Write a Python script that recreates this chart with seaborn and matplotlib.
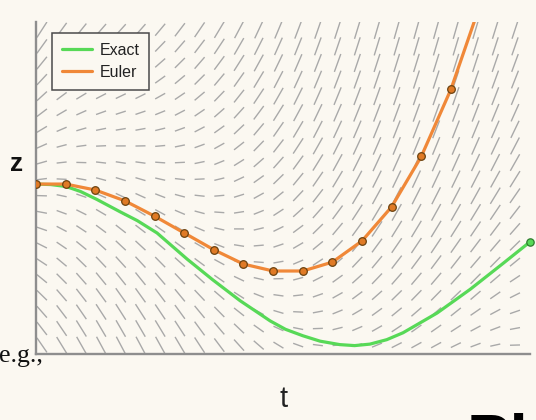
import numpy as np
import pandas as pd
import matplotlib
matplotlib.use("Agg")
import matplotlib.pyplot as plt
import seaborn as sns

# ---- data ----
euler_t = [0.0, 0.6, 1.2, 1.8, 2.4, 3.0, 3.6, 4.2, 4.8, 5.4, 6.0, 6.6, 7.2, 7.8, 8.4, 9.0]
euler_z = [3.44, 3.44, 3.32, 3.10, 2.79, 2.45, 2.11, 1.82, 1.68, 1.68, 1.86, 2.29, 2.98, 4.00, 5.36, 7.10]

exact_t = [0.0, 0.3, 0.61, 0.9, 1.23, 1.70, 2.05, 2.45, 3.06, 3.58, 4.13, 4.74, 5.05, 5.40,
           5.75, 6.15, 6.45, 6.76, 7.10, 7.43, 8.12, 8.79, 9.45, 10.0]
exact_z = [3.44, 3.43, 3.39, 3.29, 3.13, 2.88, 2.70, 2.45, 1.92, 1.50, 1.08, 0.67, 0.50, 0.37,
           0.26, 0.19, 0.17, 0.20, 0.29, 0.43, 0.83, 1.31, 1.83, 2.27]

legend_labels = ["Exact", "Euler"]
x_label = "t"
y_label = "z"

# ODE of the direction field dz/dt = k * (z - c(t))
k_rate = 0.47
c_mean, c_amp, c_freq, c_shift = 1.6, 2.6, 0.52, 1.8

BG = "#FBF8F1"
GREEN = "#57D957"
ORANGE = "#F08838"

sns.set_theme(style="white")
plt.rcParams["font.family"] = ["Liberation Sans", "DejaVu Sans"]

fig = plt.figure(figsize=(5.36, 4.2), dpi=100, facecolor=BG)
W, H = 536, 420
ax = fig.add_axes([36 / W, 66 / H, 494 / W, 332 / H])
ax.set_facecolor(BG)
xmax, ymax = 10.0, 332 / 49.4
ax.set_xlim(0, xmax)
ax.set_ylim(0, ymax)

# ---- direction field ----
px = 49.4  # pixels per data unit (both axes)
gt = 0.12 + 0.399 * np.arange(25)
gz = 0.18 + 0.336 * np.arange(20)
T, Z = np.meshgrid(gt, gz)
S = k_rate * (Z - (c_mean + c_amp * np.cos(c_freq * (T - c_shift))))
L = np.minimum(10 * np.sqrt(1 + S ** 2), 19) / px
norm = np.sqrt(1 + S ** 2)
U = L / norm
V = L * S / norm
ax.quiver(T, Z, U, V, angles="xy", scale_units="xy", scale=1, pivot="mid",
          headwidth=0, headlength=0, headaxislength=0, width=0.0028,
          color="#A9A9A9", zorder=1)

# ---- curves ----
df_exact = pd.DataFrame({"t": exact_t, "z": exact_z})
df_euler = pd.DataFrame({"t": euler_t, "z": euler_z})
sns.lineplot(data=df_exact, x="t", y="z", ax=ax, color=GREEN, lw=2.3,
             label=legend_labels[0], zorder=3, sort=False)
sns.lineplot(data=df_euler, x="t", y="z", ax=ax, color=ORANGE, lw=2.3,
             label=legend_labels[1], zorder=4, sort=False)
ax.scatter([exact_t[-1]], [exact_z[-1]], s=28, color=GREEN, edgecolor="#2E7D2E",
           linewidth=0.9, zorder=5, clip_on=False)
ax.scatter(euler_t, euler_z, s=30, color="#E07A25", edgecolor="#6B4210",
           linewidth=0.9, zorder=6, clip_on=True)

# ---- axes styling ----
for side in ["top", "right"]:
    ax.spines[side].set_visible(False)
for side in ["left", "bottom"]:
    ax.spines[side].set_color("#8E8E8E")
    ax.spines[side].set_linewidth(1.7)
ax.set_xticks([])
ax.set_yticks([])
ax.set_xlabel("")
ax.set_ylabel("")

leg = ax.legend(loc="upper left", bbox_to_anchor=(16 / 494, 1 - 11 / 332),
                borderaxespad=0, fontsize=11.5, frameon=True, fancybox=False,
                handlelength=1.9, handletextpad=0.45, labelspacing=0.42,
                borderpad=0.62, facecolor=BG, framealpha=1)
leg.get_frame().set_edgecolor("#4A4A4A")
leg.get_frame().set_linewidth(1.1)
for line in leg.get_lines():
    line.set_linewidth(2.3)
for txt in leg.get_texts():
    txt.set_color("#222222")

# ---- surrounding slide text ----
def fx(x):
    return x / W

def fy(y):
    return 1 - y / H

fig.text(fx(16.5), fy(164.5), y_label, fontsize=19, fontweight="bold",
         ha="center", va="center", color="#111111")
fig.text(fx(284), fy(399), x_label, fontsize=21, ha="center", va="center",
         color="#222222")
fig.text(fx(43), fy(362), "e.g.,", fontsize=18.5, ha="right", va="baseline",
         family=["Liberation Serif", "DejaVu Serif"], color="#111111")
fig.text(fx(467), fy(460), "Pl", fontsize=47, fontweight="bold", ha="left",
         va="baseline", color="#000000")

fig.savefig("out.png", dpi=100, facecolor=BG)
